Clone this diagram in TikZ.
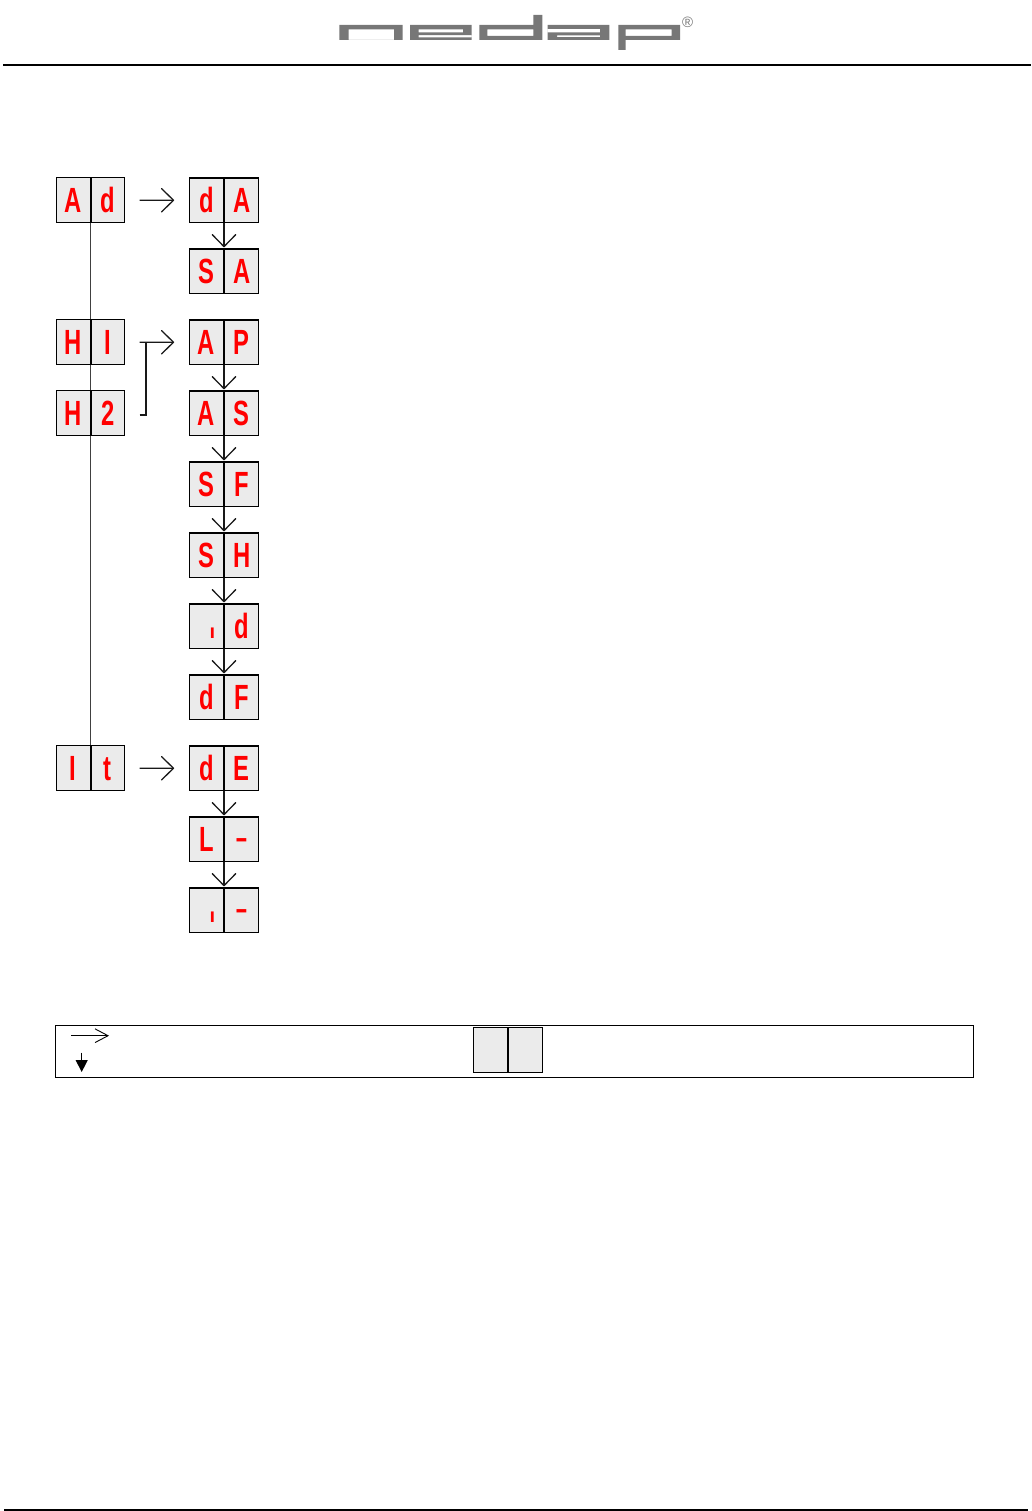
\documentclass[tikz,border=0pt]{standalone}
\usepackage{graphicx}
\usepackage{fontspec}
\setmainfont{Liberation Sans}
\usetikzlibrary{arrows.meta}
\definecolor{cellgray}{HTML}{EBEBEB}
\definecolor{logogray}{HTML}{777777}
\definecolor{segred}{HTML}{FF0000}
\newcommand{\segtxt}[1]{\fontsize{35}{35}\bfseries\selectfont\scalebox{.68}[1]{#1}}
\newcommand{\segdash}{\fontsize{35}{35}\bfseries\selectfont\raisebox{4.2pt}{\scalebox{1.1}[.8]{-}}}
\newcommand{\segi}{\fontsize{20}{20}\bfseries\selectfont\kern12pt ı}
% display: name, centre x, top y, left char, right char
\newcommand{\dispbox}[6][]{%
  \node[cell,#1,anchor=north east] (#2l) at (#3,#4) {#5};
  \node[cell,#1,anchor=north west] (#2r) at (#3,#4) {#6};
}
\tikzset{
  cell/.style={draw=black,fill=cellgray,line width=1pt,minimum width=33.8pt,minimum height=45pt,
    inner sep=0pt,text=segred,text height=25pt,text depth=0pt,align=center},
  heavycell/.style={line width=1.25pt,minimum width=34pt,minimum height=44.6pt},
  trunk/.style={draw=black!75,line width=1.2pt},
  nextarrow/.style={draw=black!90,line width=1.3pt,-{Straight Barb[length=12pt,width=23.4pt,round]}},
  keyarrow/.style={draw=black,line width=.9pt,-{Straight Barb[length=13pt,width=13.7pt]}},
  keydown/.style={draw=black,line width=1.1pt,-{Triangle[length=12pt,width=12pt]}},
  rule/.style={fill=black},
}
\begin{document}
\begin{tikzpicture}[x=1pt,y=-1pt]
\useasboundingbox (0,0) rectangle (1031,1511);
% header and footer rules
\fill[rule] (3,64.3) rectangle (1030.7,66.4);
\fill[rule] (4,1508.8) rectangle (1028,1511);
% logo
\fill[logogray,even odd rule]
  (339.3,25) rectangle (402.7,40)
  (348.5,29.5) rectangle (394,40);
\fill[logogray,even odd rule]
  (410,25) rectangle (471.7,40)
  (418.5,29.3) rectangle (463,32.3)
  (418.5,35.2) rectangle (471.7,37.3);
\fill[logogray,even odd rule]
  (479.3,25) -- (533.3,25) -- (533.3,15) -- (542.3,15) -- (542.3,40) -- (479.3,40) -- cycle
  (487.3,29.3) rectangle (533.3,36);
\fill[logogray,even odd rule]
  (547.7,25) rectangle (609.3,40)
  (547.7,29) rectangle (600,32.3)
  (557,35.3) rectangle (600,37.2);
\fill[logogray,even odd rule]
  (618.3,25) -- (680,25) -- (680,40) -- (625.7,40) -- (625.7,50) -- (618.3,50) -- cycle
  (625.7,29.3) rectangle (671.7,36);
\node[text=logogray,inner sep=0pt,font=\fontsize{15}{15}\selectfont] (reg) at (687.7,22.7) {®};
% left column
\dispbox{ad}{90.5}{177.3}{\segtxt{A}}{\segtxt{d}}
\dispbox{ha}{90.5}{319.3}{\segtxt{H}}{\segtxt{I}}
\dispbox{hb}{90.5}{390.3}{\segtxt{H}}{\segtxt{2}}
\dispbox{it}{90.5}{745.3}{\segtxt{I}}{\segtxt{t}}
% right column
\dispbox[heavycell]{da}{224}{177.3}{\segtxt{d}}{\segtxt{A}}
\dispbox[heavycell]{sa}{224}{248.3}{\segtxt{S}}{\segtxt{A}}
\dispbox[heavycell]{ap}{224}{319.3}{\segtxt{A}}{\segtxt{P}}
\dispbox[heavycell]{as}{224}{390.3}{\segtxt{A}}{\segtxt{S}}
\dispbox[heavycell]{sf}{224}{461.3}{\segtxt{S}}{\segtxt{F}}
\dispbox[heavycell]{sh}{224}{532.3}{\segtxt{S}}{\segtxt{H}}
\dispbox[heavycell]{id}{224}{603.3}{\segi}{\segtxt{d}}
\dispbox[heavycell]{df}{224}{674.3}{\segtxt{d}}{\segtxt{F}}
\dispbox[heavycell]{de}{224}{745.3}{\segtxt{d}}{\segtxt{E}}
\dispbox[heavycell]{ll}{224}{816.3}{\segtxt{L}}{\segdash}
\dispbox[heavycell]{ii}{224}{887.3}{\segi}{\segdash}
% trunk
\draw[trunk] (adl.south east) -- (hal.north east);
\draw[trunk] (hal.south east) -- (hbl.north east);
\draw[trunk] (hbl.south east) -- (itl.north east);
% horizontal arrows
\draw[nextarrow,shorten <=14.4pt,shorten >=14.6pt] (adr.east) -- (dal.west);
\draw[nextarrow,shorten <=14.4pt,shorten >=14.6pt] (har.east) -- (apl.west);
\draw[nextarrow,shorten <=14.4pt,shorten >=14.6pt] (itr.east) -- (del.west);
% H2 joins the H1 arrow
\coordinate (hbstub) at (139.7,415);
\coordinate (hbcorner) at (146,415);
\coordinate (hbjoin) at (146,341.8);
\draw[line width=1.3pt,draw=black!90] (hbstub) -- (hbcorner) -- (hbjoin);
% vertical arrows
\foreach \p/\q in {da/sa,ap/as,as/sf,sf/sh,sh/id,id/df,de/ll,ll/ii}
  \draw[nextarrow,shorten >=1pt] (\p l.south east) -- (\q l.north east);
% legend
\node[draw=black,line width=1pt,fill=none,minimum width=918pt,minimum height=52pt,inner sep=0pt,anchor=north west] (legend) at (55.4,1025.4) {};
\coordinate (k1a) at (71,1035.7);
\coordinate (k1b) at (109,1035.7);
\draw[keyarrow] (k1a) -- (k1b);
\coordinate (k2a) at (81.7,1052.7);
\coordinate (k2b) at (81.7,1072);
\draw[keydown] (k2a) -- (k2b);
\node[cell,line width=1.2pt,anchor=north east] (kl) at (508,1027) {};
\node[cell,line width=1.2pt,anchor=north west] (kr) at (508,1027) {};
\end{tikzpicture}
\end{document}
